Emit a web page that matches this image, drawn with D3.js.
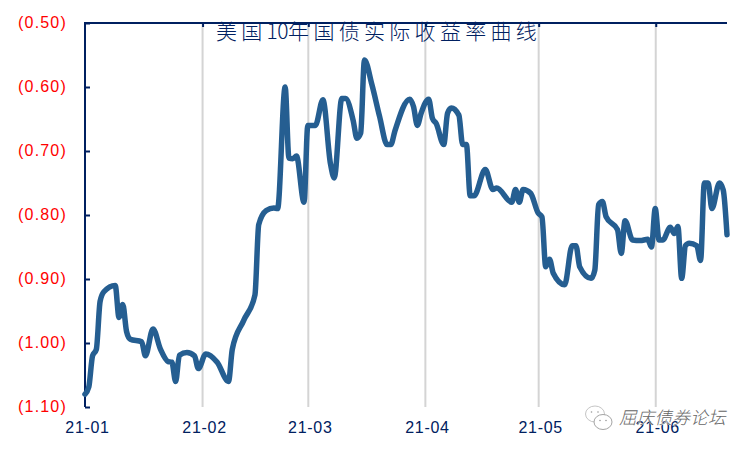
<!DOCTYPE html>
<html><head><meta charset="utf-8">
<script src="https://cdn.jsdelivr.net/npm/d3@7"></script>
<style>html,body{margin:0;padding:0;background:#fff}svg{display:block}</style>
</head><body><svg id="c" width="750" height="450"></svg>
<script>
const titleParts = ["美国","10","年国债实际收益率曲线"];
const watermarkText = "屈庆债券论坛";
const yTicks = [-0.5,-0.6,-0.7,-0.8,-0.9,-1.0,-1.1];
const xTicks = ["2021-02-01","2021-03-01","2021-04-01","2021-05-01","2021-06-01"];
const xLabels = ["2021-01-01","2021-02-01","2021-03-01","2021-04-01","2021-05-01","2021-06-01"];
const dates = ["01-01","01-02","01-03","01-04","01-05","01-06","01-09","01-10","01-11","01-12","01-13","01-16","01-17","01-19","01-21","01-23","01-24","01-25","01-26","01-28","01-30","01-31",
"02-02","02-05","02-08","02-09","02-12","02-15","02-16","02-18","02-20","02-21","02-23","02-24","02-25","02-26","02-28",
"03-01","03-03","03-05","03-07","03-08","03-10","03-11","03-13","03-14","03-15","03-16","03-18","03-20","03-22","03-23","03-24","03-28","03-29","03-30","03-31",
"04-02","04-03","04-04","04-06","04-07","04-08","04-10","04-11","04-12","04-13","04-14","04-17","04-19","04-20","04-24","04-25","04-26","04-27","04-29",
"05-01","05-02","05-03","05-04","05-05","05-08","05-10","05-11","05-12","05-15","05-16","05-17","05-18","05-19","05-22","05-23","05-24","05-26","05-28","05-30","05-31",
"06-01","06-02","06-03","06-05","06-06","06-07","06-08","06-09","06-10","06-12","06-13","06-14","06-15","06-16","06-18","06-19","06-20"];
const yields = [-1.08,-1.069,-1.02,-1.01,-0.935,-0.92,-0.91,-0.96,-0.94,-0.982,-0.994,-0.998,-1.02,-0.978,-1.01,-1.029,-1.03,-1.06,-1.019,-1.015,-1.02,-1.04,
-1.017,-1.03,-1.06,-1.01,-0.965,-0.925,-0.815,-0.793,-0.789,-0.79,-0.60,-0.711,-0.712,-0.708,-0.78,
-0.66,-0.66,-0.62,-0.72,-0.742,-0.618,-0.618,-0.652,-0.68,-0.672,-0.558,-0.597,-0.646,-0.69,-0.69,-0.67,-0.619,-0.631,-0.66,-0.641,
-0.619,-0.649,-0.657,-0.69,-0.641,-0.633,-0.644,-0.69,-0.69,-0.77,-0.77,-0.729,-0.76,-0.758,-0.78,-0.76,-0.78,-0.76,-0.766,
-0.797,-0.803,-0.881,-0.869,-0.891,-0.909,-0.848,-0.848,-0.881,-0.899,-0.886,-0.784,-0.779,-0.803,-0.823,-0.86,-0.809,-0.839,-0.84,-0.838,-0.85,
-0.79,-0.839,-0.839,-0.819,-0.829,-0.818,-0.899,-0.848,-0.844,-0.848,-0.871,-0.75,-0.75,-0.79,-0.75,-0.761,-0.831];

const navy = "#002060", lineColor = "#255e91", gridColor = "#d4d4d4";
const svg = d3.select("#c");
const parse = d3.utcParse("%Y-%m-%d");
const L = 85, R = 727, T = 23, B = 407;
const x = d3.scaleUtc().domain([parse("2021-01-01"), parse("2021-06-20")]).range([L, R]);
const y = d3.scaleLinear().domain([-0.5, -1.1]).range([T, B]);
const fmtY = v => "(" + Math.abs(v).toFixed(2) + ")";
const fmtX = d3.utcFormat("%y-%m");

svg.append("g").selectAll("line").data(xTicks).join("line")
  .attr("x1", d => x(parse(d))+0.5).attr("x2", d => x(parse(d))+0.5)
  .attr("y1", T).attr("y2", B)
  .attr("stroke", gridColor).attr("stroke-width", 2);

const topAxis = svg.append("g").attr("transform", `translate(0,${T})`)
  .call(d3.axisTop(x).tickValues(xTicks.map(parse)).tickSize(-4).tickFormat(""));
topAxis.select(".domain").attr("stroke", navy).attr("stroke-width", 2).attr("d", `M${L-1},0H${R}`);
topAxis.selectAll(".tick line").attr("stroke", navy).attr("stroke-width", 2).attr("transform","translate(0.5,0)");

const leftAxis = svg.append("g").attr("transform", `translate(${L},0)`)
  .call(d3.axisLeft(y).tickValues(yTicks).tickSize(-5).tickPadding(0).tickFormat(fmtY));
leftAxis.select(".domain").attr("stroke", navy).attr("stroke-width", 2).attr("d", `M0,${T}V${B}`);
leftAxis.selectAll(".tick line").attr("stroke", navy).attr("stroke-width", 2);
leftAxis.selectAll(".tick text")
  .attr("x", 67-L).attr("dy", "0.3em")
  .attr("fill", "#ff0000").attr("font-family", "'Liberation Sans',Arial,sans-serif")
  .attr("font-size", 16).attr("letter-spacing", 1.2);

const bottomAxis = svg.append("g").attr("transform", `translate(0,${B})`)
  .call(d3.axisBottom(x).tickValues(xLabels.map(parse)).tickSize(0).tickPadding(0).tickFormat(fmtX));
bottomAxis.select(".domain").remove();
bottomAxis.selectAll(".tick text")
  .attr("dx", 2).attr("y", 20).attr("dy", "0.35em")
  .attr("fill", navy).attr("font-family", "'Liberation Sans',Arial,sans-serif")
  .attr("font-size", 16).attr("letter-spacing", 0.7).attr("text-anchor","middle");

const series = dates.map((d,i) => ({date: parse("2021-"+d), value: yields[i]}));
svg.append("path").datum(series)
  .attr("fill","none").attr("stroke",lineColor).attr("stroke-width",5.5)
  .attr("stroke-linejoin","round").attr("stroke-linecap","round")
  .attr("d", d3.line().x(d=>x(d.date)).y(d=>y(d.value)).curve(d3.curveMonotoneX));

const title = svg.append("text").attr("x", 216).attr("y", 38.5)
  .attr("fill", navy).attr("font-family","'Noto Sans CJK SC',sans-serif")
  .attr("font-size", 21).attr("font-weight", 300);
title.selectAll("tspan").data(titleParts).join("tspan")
  .text(d => d)
  .attr("letter-spacing", (d,i) => i === 1 ? -0.5 : 4.3);

const wm = svg.append("g").attr("transform","translate(585,405)")
  .attr("fill","#fff").attr("stroke","#bdbdbd").attr("stroke-width",0.9);
wm.append("ellipse").attr("cx",10).attr("cy",9).attr("rx",9.5).attr("ry",8);
wm.append("ellipse").attr("cx",18).attr("cy",17).attr("rx",9).attr("ry",7.5).attr("stroke","#999");
[[6.5,7],[13,7],[15,15.5],[21,15.5]].forEach(p=>wm.append("circle").attr("cx",p[0]).attr("cy",p[1]).attr("r",0.8).attr("fill","#999").attr("stroke","none"));

svg.append("text").text(watermarkText)
  .attr("x", 619).attr("y", 424)
  .attr("fill","#666").attr("font-family","'Noto Sans CJK SC',sans-serif")
  .attr("font-size", 17.5).attr("font-weight", 300).attr("font-style","italic")
  .attr("stroke","#fff").attr("stroke-width",0.6).attr("paint-order","stroke")
  .attr("letter-spacing", 0.3);
</script></body></html>
